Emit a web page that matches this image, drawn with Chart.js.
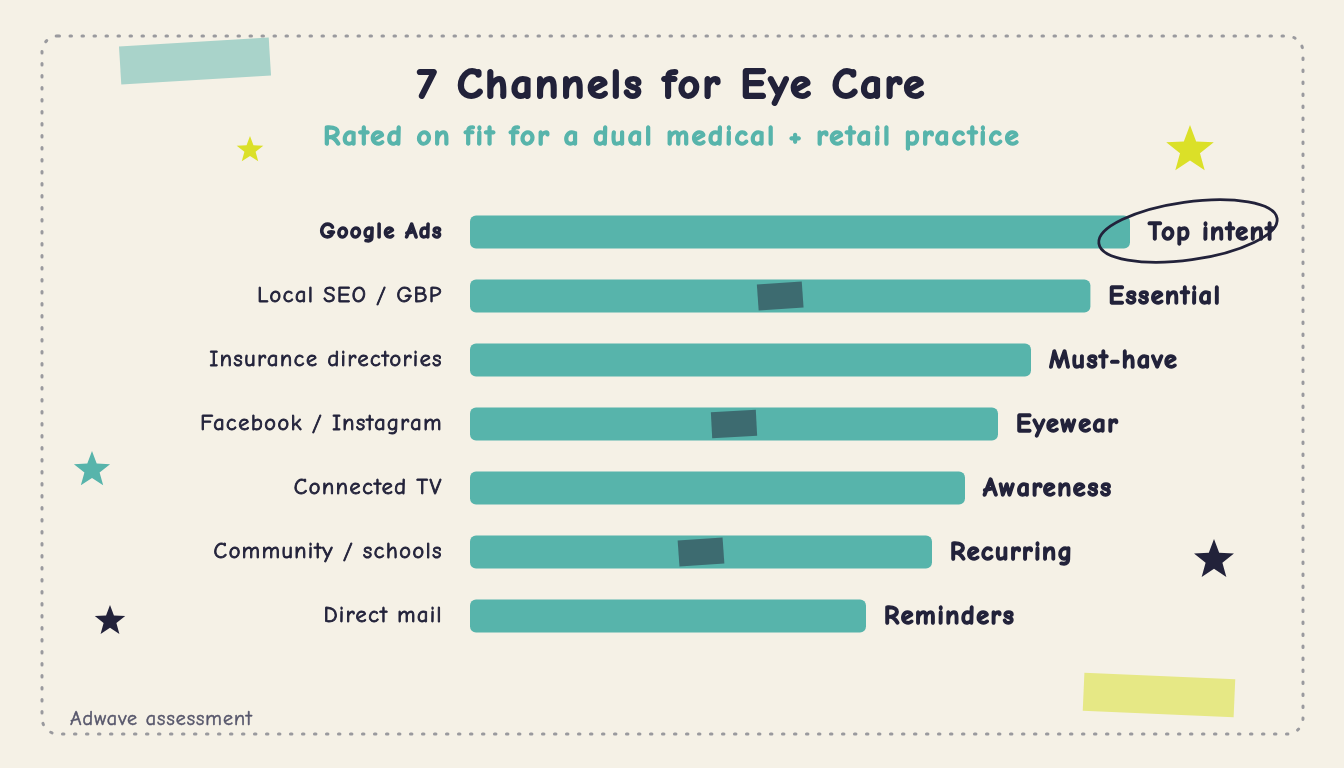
<!DOCTYPE html>
<html>
<head>
<meta charset="utf-8">
<script src="https://cdn.jsdelivr.net/npm/chart.js@4"></script>
<style>
  html, body { margin: 0; padding: 0; background: #f5f1e6; }
  #wrap { width: 1344px; height: 768px; position: relative; }
</style>
</head>
<body>
<div id="wrap"><canvas id="chart" width="1344" height="768"></canvas></div>
<script>
/* global document, Chart */

// Data (fit score, 0-100)
const channels = ['Google Ads', 'Local SEO / GBP', 'Insurance directories', 'Facebook / Instagram', 'Connected TV', 'Community / schools', 'Direct mail'];
const fitScores = [100, 94, 85, 80, 75, 70, 60];
const verdicts = ['Top intent', 'Essential', 'Must-have', 'Eyewear', 'Awareness', 'Recurring', 'Reminders'];

const FONT = '"Comic Neue", "Comic Sans MS", "Noto Sans", sans-serif';
const NAVY = '#22223a';
const TEAL = '#57b4ab';

function star(ctx, cx, cy, r, color) {
    ctx.save();
    ctx.beginPath();
    for (let i = 0; i < 10; i++) {
        let rad = i % 2 === 0 ? r : r * 0.42;
        let a = -Math.PI / 2 + i * Math.PI / 5;
        let x = cx + rad * Math.cos(a);
        let y = cy + rad * Math.sin(a);
        if (i === 0) ctx.moveTo(x, y); else ctx.lineTo(x, y);
    }
    ctx.closePath();
    ctx.fillStyle = color;
    ctx.fill();
    ctx.restore();
}

function tape(ctx, cx, cy, w, h, angle, color) {
    ctx.save();
    ctx.translate(cx, cy);
    ctx.rotate(angle * Math.PI / 180);
    ctx.fillStyle = color;
    ctx.fillRect(-w / 2, -h / 2, w, h);
    ctx.restore();
}

// heavier text: stroke + fill in the same colour
function heavyText(ctx, text, x, y, weight) {
    ctx.lineWidth = weight;
    ctx.lineJoin = 'round';
    ctx.strokeStyle = ctx.fillStyle;
    ctx.strokeText(text, x, y);
    ctx.fillText(text, x, y);
}

// the reference lettering is wider than the installed comic font, so space it out
const spacingPlugin = {
    id: 'spacing',
    beforeUpdate(chart) { chart.ctx.letterSpacing = '1.6px'; },
    beforeDraw(chart) { chart.ctx.letterSpacing = '1.6px'; }
};

// background, frame, title and decorations
const decorPlugin = {
    id: 'decor',
    beforeDraw(chart) {
        let ctx = chart.ctx;
        ctx.save();
        ctx.fillStyle = '#f5f1e6';
        ctx.fillRect(0, 0, chart.width, chart.height);

        // dotted frame
        ctx.strokeStyle = '#9a9a9e';
        ctx.lineWidth = 3;
        ctx.lineCap = 'round';
        ctx.setLineDash([1.5, 10.5]);
        ctx.beginPath();
        ctx.roundRect(42, 36, 1261, 698, 16);
        ctx.stroke();
        ctx.setLineDash([]);
        ctx.lineCap = 'butt';

        tape(ctx, 195, 61, 150, 38, -3.5, '#a9d3ca');
        tape(ctx, 1159, 695, 151, 38, 2.5, '#e6e885');

        star(ctx, 250, 150, 14, '#dbe028');
        star(ctx, 1190, 150, 25, '#dbe028');
        star(ctx, 92, 470, 19, TEAL);
        star(ctx, 110, 621, 16, NAVY);
        star(ctx, 1214, 560, 21, NAVY);

        ctx.textAlign = 'center';
        ctx.textBaseline = 'middle';
        ctx.fillStyle = NAVY;
        ctx.font = 'bold 43px ' + FONT;
        ctx.letterSpacing = '2.6px';
        heavyText(ctx, '7 Channels for Eye Care', 672, 86, 2);
        ctx.fillStyle = TEAL;
        ctx.font = 'bold 29px ' + FONT;
        ctx.letterSpacing = '2.2px';
        heavyText(ctx, 'Rated on fit for a dual medical + retail practice', 672, 137, 1.4);

        ctx.textAlign = 'left';
        ctx.fillStyle = '#55556a';
        ctx.font = '20px ' + FONT;
        ctx.letterSpacing = '1px';
        heavyText(ctx, 'Adwave assessment', 70, 719, 0.5);
        ctx.restore();
    },
    afterDatasetsDraw(chart) {
        let ctx = chart.ctx;
        let meta = chart.getDatasetMeta(0);
        let xs = chart.scales.x;
        ctx.save();

        // small dark tape marks stuck on some bars
        let marks = [[1, 47, -4], [3, 40, -3], [5, 35, -4]];
        marks.forEach(m => {
            let bar = meta.data[m[0]];
            tape(ctx, xs.getPixelForValue(m[1]), bar.y, 45, 26, m[2], '#3d6b70');
        });

        // verdict labels
        ctx.fillStyle = NAVY;
        ctx.font = 'bold 26px ' + FONT;
        ctx.letterSpacing = '1.6px';
        ctx.textBaseline = 'middle';
        ctx.textAlign = 'left';
        meta.data.forEach((bar, i) => {
            heavyText(ctx, verdicts[i], bar.x + 18, bar.y + 1, 1.4);
        });

        // hand-drawn ellipse round the top label
        let top = meta.data[0];
        ctx.strokeStyle = NAVY;
        ctx.lineWidth = 2.8;
        ctx.beginPath();
        ctx.ellipse(top.x + 58, top.y - 1, 90, 29, -8 * Math.PI / 180, 0, Math.PI * 2);
        ctx.stroke();
        ctx.restore();
    }
};

new Chart(document.getElementById('chart'), {
    type: 'bar',
    data: {
        labels: channels,
        datasets: [{
            data: fitScores,
            backgroundColor: TEAL,
            borderRadius: 6,
            borderSkipped: false,
            categoryPercentage: 1,
            barPercentage: 33 / 64
        }]
    },
    options: {
        indexAxis: 'y',
        responsive: false,
        animation: false,
        layout: { padding: { top: 200, bottom: 120, left: 0, right: 214 } },
        plugins: { legend: { display: false }, tooltip: { enabled: false } },
        scales: {
            x: { display: false, min: 0, max: 100 },
            y: {
                grid: { display: false, drawTicks: false },
                border: { display: false },
                afterFit(scale) { scale.width = 470; },
                ticks: {
                    padding: 27,
                    color: NAVY,
                    textStrokeColor: NAVY,
                    textStrokeWidth: ctx => ctx.index === 0 ? 1.4 : 0.9,
                    font: ctx => ({ family: FONT, size: 22, weight: ctx.index === 0 ? 'bold' : 'normal' })
                }
            }
        }
    },
    plugins: [spacingPlugin, decorPlugin]
});
</script>
</body>
</html>
